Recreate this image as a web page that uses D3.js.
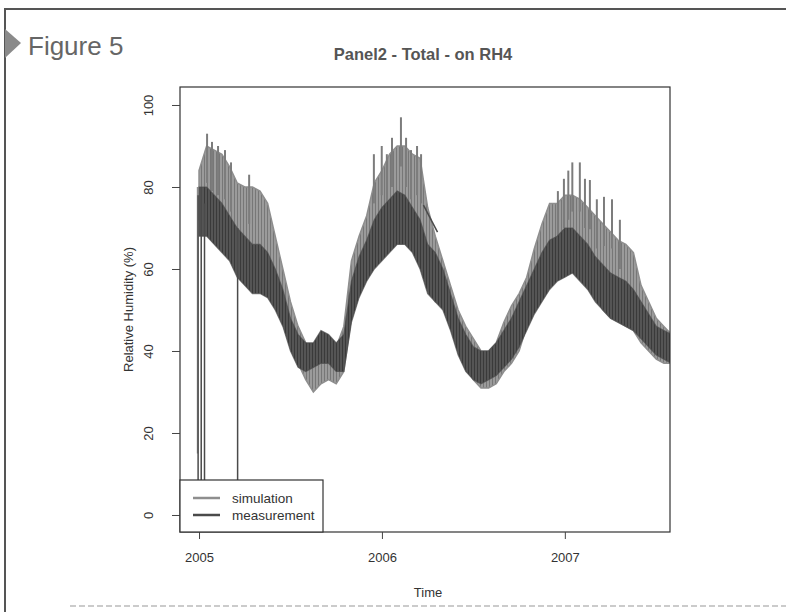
<!DOCTYPE html>
<html>
<head>
<meta charset="utf-8">
<script src="https://cdn.jsdelivr.net/npm/d3@7"></script>
<style>
body { margin: 0; background: #fff; }
text { font-family: "Liberation Sans", Arial, Helvetica, sans-serif; }
</style>
</head>
<body>
<div id="chart"></div>
<script>
var svgWidth = 786;
var svgHeight = 612;

var margin = {
    top: 87,
    right: 116,
    bottom: 80,
    left: 180
};

var width = svgWidth - margin.left - margin.right;
var height = svgHeight - margin.top - margin.bottom;

// readings every half month, starting at 2005.0
var startYear = 2005;
var stepYear = 1 / 24;

var simHi = [84, 90, 89, 88, 85, 81, 80, 80, 79, 76, 68, 60, 52, 46, 42, 40, 42, 43, 41, 46,
    62, 68, 73, 81, 84, 88, 90, 90, 88, 87, 75, 68, 62, 56, 50, 46, 43, 40, 40, 42,
    47, 51, 54, 58, 65, 71, 76, 76, 78, 78, 77, 75, 73, 71, 69, 67, 66, 64, 56, 52,
    48, 46, 44];
var simLo = [72, 72, 70, 68, 65, 62, 60, 58, 57, 56, 52, 47, 42, 37, 33, 30, 32, 33, 32, 35,
    48, 55, 60, 63, 63, 65, 67, 68, 65, 62, 55, 52, 51, 46, 40, 36, 33, 31, 31, 32,
    35, 37, 40, 46, 50, 55, 57, 59, 60, 61, 60, 57, 53, 50, 48, 47, 46, 45, 42, 40,
    38, 37, 37];
var measHi = [80, 80, 78, 76, 73, 70, 68, 66, 66, 64, 60, 55, 48, 44, 42, 42, 45, 44, 42, 44,
    57, 63, 67, 72, 75, 77, 79, 78, 75, 72, 66, 64, 60, 54, 48, 44, 41, 40, 40, 42,
    45, 48, 52, 56, 60, 64, 67, 68, 70, 70, 68, 66, 63, 61, 59, 58, 57, 55, 52, 49,
    46, 45, 44];
var measLo = [68, 68, 66, 64, 62, 58, 56, 54, 54, 53, 50, 46, 40, 36, 35, 36, 37, 37, 35, 35,
    47, 53, 57, 60, 62, 64, 66, 66, 64, 60, 54, 52, 50, 45, 39, 35, 33, 32, 33, 34,
    36, 38, 41, 45, 49, 52, 55, 57, 58, 59, 57, 55, 52, 50, 48, 47, 46, 45, 43, 41,
    39, 38, 37];

// tall single peaks of the simulation
var simSpikeTime = [2005.044, 2005.071, 2005.104, 2005.142, 2005.175, 2005.274,
    2005.956, 2005.999, 2006.027, 2006.055, 2006.104, 2006.132, 2006.159, 2006.192, 2006.214,
    2006.962, 2006.995, 2007.019, 2007.041, 2007.082, 2007.110, 2007.137, 2007.175, 2007.214, 2007.258, 2007.301];
var simSpikeValue = [93, 91, 90, 89, 86, 83,
    88, 90, 88, 92, 97, 92, 89, 90, 88,
    79, 82, 84, 86, 86, 82, 81.7, 77, 77.6, 77, 72];

// dropouts of the sensors
var measDropTime = [2004.995, 2005.012, 2005.030, 2005.211];
var measDropFrom = [78, 80, 76, 70];
var measDropTo = [0, 0, 0, 0];
var simDropTime = [2004.992];
var simDropFrom = [80];
var simDropTo = [15];

// missing measurement stretch joined by a straight line
var measGapTime = [2006.227, 2006.304];
var measGapValue = [75.6, 69];

var xTicks = [2005, 2006, 2007];
var yTicks = [0, 20, 40, 60, 80, 100];

var simColor = "#8e8e8e";
var measColor = "#4a4a4a";

var svg = d3.select("#chart")
    .append("svg")
    .attr("width", svgWidth)
    .attr("height", svgHeight);

// vertical hatching, the bands are made of many hourly strokes
var defs = svg.append("defs");
function hatch(id, base, stroke) {
    var p = defs.append("pattern")
        .attr("id", id)
        .attr("patternUnits", "userSpaceOnUse")
        .attr("width", 3).attr("height", 6);
    p.append("rect").attr("width", 3).attr("height", 6).attr("fill", base);
    p.append("rect").attr("width", 1).attr("height", 6).attr("fill", stroke);
}
hatch("simHatch", "#9b9b9b", "#777");
hatch("measHatch", "#555", "#3a3a3a");

svg.append("rect")
    .attr("width", svgWidth)
    .attr("height", svgHeight)
    .attr("fill", "#fff");

// page frame of the scanned slide
svg.append("line")
    .attr("x1", 4).attr("x2", svgWidth).attr("y1", 9).attr("y2", 9)
    .attr("stroke", "#555").attr("stroke-width", 2);
svg.append("line")
    .attr("x1", 5).attr("x2", 5).attr("y1", 9).attr("y2", svgHeight)
    .attr("stroke", "#555").attr("stroke-width", 2);
svg.append("line")
    .attr("x1", 70).attr("x2", svgWidth).attr("y1", 606).attr("y2", 606)
    .attr("stroke", "#bbb").attr("stroke-width", 1.5).attr("stroke-dasharray", "6,3");

svg.append("path")
    .attr("d", "M5,29 L21,43 L5,58 Z")
    .attr("fill", "#8a8a8a");

svg.append("text")
    .attr("x", 28)
    .attr("y", 55)
    .attr("font-size", 26)
    .attr("fill", "#666")
    .text("Figure 5");

var chartGroup = svg.append("g")
    .attr("transform", `translate(${margin.left}, ${margin.top})`);

var xScale = d3.scaleLinear()
    .domain([2004.896, 2007.575])
    .range([0, width]);

var yScale = d3.scaleLinear()
    .domain([-4.15, 104.39])
    .range([height, 0]);

chartGroup.append("clipPath").attr("id", "plotclip")
    .append("rect").attr("width", width).attr("height", height);

var plot = chartGroup.append("g").attr("clip-path", "url(#plotclip)");

var simData = simHi.map((v, i) => ({t: startYear + i * stepYear, hi: v, lo: simLo[i]}));
var measData = measHi.map((v, i) => ({t: startYear + i * stepYear, hi: v, lo: measLo[i]}));

var band = d3.area()
    .x(d => xScale(d.t))
    .y0(d => yScale(d.lo))
    .y1(d => yScale(d.hi));

// simulation drops, band and spikes
plot.selectAll(".simdrop")
    .data(simDropTime)
    .enter()
    .append("line")
    .attr("x1", d => xScale(d)).attr("x2", d => xScale(d))
    .attr("y1", (d, i) => yScale(simDropFrom[i]))
    .attr("y2", (d, i) => yScale(simDropTo[i]))
    .attr("stroke", simColor).attr("stroke-width", 1.5);

plot.append("path")
    .datum(simData)
    .attr("d", band)
    .attr("fill", "url(#simHatch)")
    .attr("stroke", simColor)
    .attr("stroke-width", 1.5);

plot.selectAll(".simspike")
    .data(simSpikeTime)
    .enter()
    .append("line")
    .attr("x1", d => xScale(d)).attr("x2", d => xScale(d))
    .attr("y1", (d, i) => yScale(simSpikeValue[i]))
    .attr("y2", (d, i) => yScale(simSpikeValue[i] - 12))
    .attr("stroke", "#7c7c7c").attr("stroke-width", 2);

// measurement
plot.append("path")
    .datum(measData)
    .attr("d", band)
    .attr("fill", "url(#measHatch)")
    .attr("stroke", measColor)
    .attr("stroke-opacity", 0.7)
    .attr("stroke-width", 1.2);

plot.selectAll(".measdrop")
    .data(measDropTime)
    .enter()
    .append("line")
    .attr("x1", d => xScale(d)).attr("x2", d => xScale(d))
    .attr("y1", (d, i) => yScale(measDropFrom[i]))
    .attr("y2", (d, i) => yScale(measDropTo[i]))
    .attr("stroke", measColor).attr("stroke-width", 1.5);

plot.append("path")
    .datum(measGapTime.map((t, i) => ({t: t, v: measGapValue[i]})))
    .attr("d", d3.line().x(d => xScale(d.t)).y(d => yScale(d.v)))
    .attr("fill", "none")
    .attr("stroke", measColor)
    .attr("stroke-width", 1.5);

// plot box
chartGroup.append("rect")
    .attr("width", width)
    .attr("height", height)
    .attr("fill", "none")
    .attr("stroke", "#333")
    .attr("stroke-width", 1.2);

// axes
var bottomAxis = d3.axisBottom(xScale).tickValues(xTicks).tickFormat(d3.format("d")).tickSize(7).tickPadding(14);
var leftAxis = d3.axisLeft(yScale).tickValues(yTicks).tickSize(8);

var xAxisG = chartGroup.append("g")
    .attr("transform", `translate(0, ${height})`)
    .call(bottomAxis);
xAxisG.select(".domain").remove();
xAxisG.selectAll("line").attr("stroke", "#444");
xAxisG.selectAll("text").attr("font-size", 13).attr("fill", "#333")
    .attr("font-family", "Liberation Sans, Arial, sans-serif");

var yAxisG = chartGroup.append("g")
    .call(leftAxis);
yAxisG.select(".domain").remove();
yAxisG.selectAll("line").attr("stroke", "#444");
yAxisG.selectAll("text")
    .attr("font-size", 13).attr("fill", "#333")
    .attr("font-family", "Liberation Sans, Arial, sans-serif")
    .attr("transform", "rotate(-90)")
    .attr("text-anchor", "middle")
    .attr("x", 0)
    .attr("y", -27)
    .attr("dy", 0);

// legend
var legend = chartGroup.append("g")
    .attr("transform", `translate(0, ${height - 52})`);
legend.append("rect")
    .attr("width", 143).attr("height", 52)
    .attr("fill", "#fff").attr("stroke", "#333").attr("stroke-width", 1.2);
var legendItems = [["simulation", simColor], ["measurement", measColor]];
legendItems.forEach(function(item, i) {
    legend.append("line")
        .attr("x1", 13).attr("x2", 40)
        .attr("y1", 18 + i * 17).attr("y2", 18 + i * 17)
        .attr("stroke", item[1]).attr("stroke-width", 2.5);
    legend.append("text")
        .attr("x", 52).attr("y", 23 + i * 17)
        .attr("font-size", 13.5).attr("fill", "#333")
        .text(item[0]);
});

// labels
svg.append("text")
    .attr("x", 423)
    .attr("y", 60)
    .attr("text-anchor", "middle")
    .attr("font-size", 16.5)
    .attr("font-weight", "bold")
    .attr("fill", "#555")
    .text("Panel2 - Total - on RH4");

chartGroup.append("text")
    .attr("transform", "rotate(-90)")
    .attr("y", -47)
    .attr("x", -height / 2)
    .attr("text-anchor", "middle")
    .attr("font-size", 13)
    .attr("fill", "#333")
    .text("Relative Humidity (%)");

chartGroup.append("text")
    .attr("transform", `translate(${width / 2 + 3}, ${height + 65})`)
    .attr("text-anchor", "middle")
    .attr("font-size", 13)
    .attr("fill", "#333")
    .text("Time");
</script>
</body>
</html>
